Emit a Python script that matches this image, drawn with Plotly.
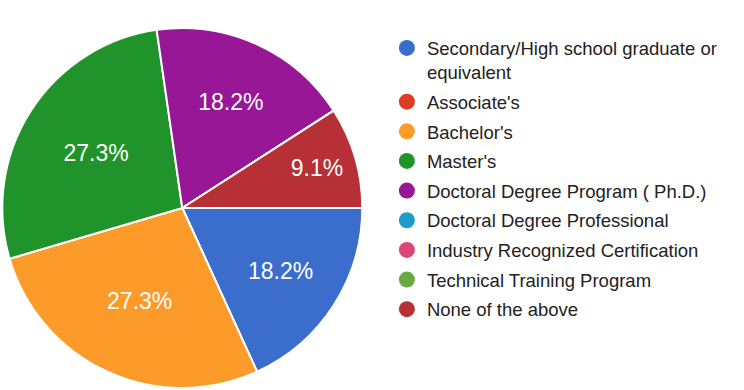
import plotly.graph_objects as go

# survey answers, in legend order
labels = [
    "Secondary/High school graduate or<br>equivalent",
    "Associate's",
    "Bachelor's",
    "Master's",
    "Doctoral Degree Program ( Ph.D.)",
    "Doctoral Degree Professional",
    "Industry Recognized Certification",
    "Technical Training Program",
    "None of the above",
]
counts = [2, 0, 3, 3, 2, 0, 0, 0, 1]
colors = ["#3b6dcc", "#dc3e25", "#fc9a2a", "#20942a", "#971797",
          "#1f9cc8", "#dd4477", "#68aa3f", "#b63035"]

FONT = "Arial, Liberation Sans, sans-serif"

fig = go.Figure()

fig.add_trace(go.Pie(
    labels=labels,
    values=counts,
    sort=False,
    direction="clockwise",
    rotation=90,
    marker=dict(colors=colors, line=dict(color="white", width=2)),
    texttemplate=["%{percent:.1%}" if c > 0 else "" for c in counts],
    textposition="inside",
    insidetextorientation="horizontal",
    textfont=dict(color="white", size=23, family=FONT),
    domain=dict(x=[0, 0.49], y=[0, 1]),
    showlegend=False,
    hoverinfo="label+value+percent",
))

# legend entries with round markers
for i, (name, col) in enumerate(zip(labels, colors)):
    fig.add_trace(go.Scatter(
        x=[None], y=[None], mode="markers", name=name,
        legendgroup=str(i),
        marker=dict(symbol="circle", size=17, color=col),
    ))

fig.update_layout(
    width=744, height=390,
    margin=dict(l=0, r=0, t=28, b=2),
    paper_bgcolor="white", plot_bgcolor="white",
    xaxis=dict(visible=False), yaxis=dict(visible=False),
    legend=dict(
        x=0.52, y=0.996, xanchor="left", yanchor="top",
        font=dict(size=18.5, color="#222222", family=FONT),
        tracegroupgap=2.6, valign="top", itemwidth=30,
    ),
)

# drop the page's default body margin so the figure sits at the top-left corner
fig.write_html("out.html", config={"displayModeBar": False},
               post_script="document.body.style.margin = '0';")
